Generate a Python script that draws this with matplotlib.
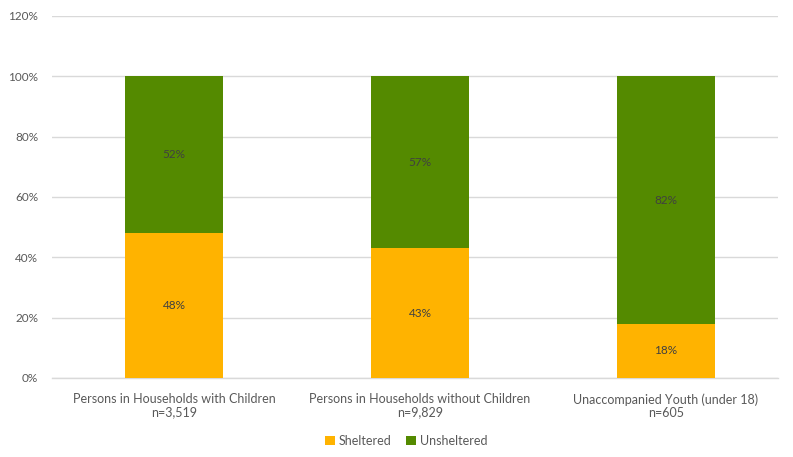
import numpy as np
import matplotlib.pyplot as plt

plt.rcParams['font.family'] = ['Lato', 'DejaVu Sans']

categories = ['Persons in Households with Children\nn=3,519',
              'Persons in Households without Children\nn=9,829',
              'Unaccompanied Youth (under 18)\nn=605']
sheltered = [48, 43, 18]
unsheltered = [52, 57, 82]

orange = '#FFB300'
green = '#548A00'
txt = '#595959'

fig = plt.figure(figsize=(7.93, 4.57), dpi=100)
ax = fig.add_axes([0.0656, 0.1729, 0.9154, 0.7921])

x = np.arange(len(categories))
w = 0.40
ax.bar(x, sheltered, w, color=orange, label='Sheltered', zorder=3)
ax.bar(x, unsheltered, w, bottom=sheltered, color=green, label='Unsheltered', zorder=3)

# etiquetas dentro das barras
for i in range(len(x)):
    ax.text(x[i], sheltered[i] / 2, f'{sheltered[i]}%', ha='center', va='center',
            fontsize=8.5, color='#404040', zorder=4)
    ax.text(x[i], sheltered[i] + unsheltered[i] / 2, f'{unsheltered[i]}%', ha='center',
            va='center', fontsize=8.5, color='#404040', zorder=4)

ax.set_xlim(-0.496, 2.455)
ax.set_ylim(0, 120)
ax.set_yticks(range(0, 121, 20))
ax.set_yticklabels([f'{v}%' for v in range(0, 121, 20)])
ax.set_xticks(x)
ax.set_xticklabels(categories, linespacing=1.1)
ax.tick_params(axis='both', length=0, labelsize=8.5, labelcolor=txt)
ax.tick_params(axis='x', labelsize=9, pad=11)
ax.tick_params(axis='y', pad=10)
ax.grid(axis='y', color='#D9D9D9', linewidth=1, zorder=0)
for s in ['top', 'right', 'left']:
    ax.spines[s].set_visible(False)
ax.spines['bottom'].set_color('#D9D9D9')
ax.spines['bottom'].set_linewidth(1)

leg = fig.legend(loc='center', bbox_to_anchor=(0.512, 0.035), ncol=2, frameon=False,
                 fontsize=9, handlelength=0.8, handleheight=0.8, handletextpad=0.3,
                 columnspacing=1.2)
for t in leg.get_texts():
    t.set_color(txt)

fig.savefig('out.png', dpi=100)
